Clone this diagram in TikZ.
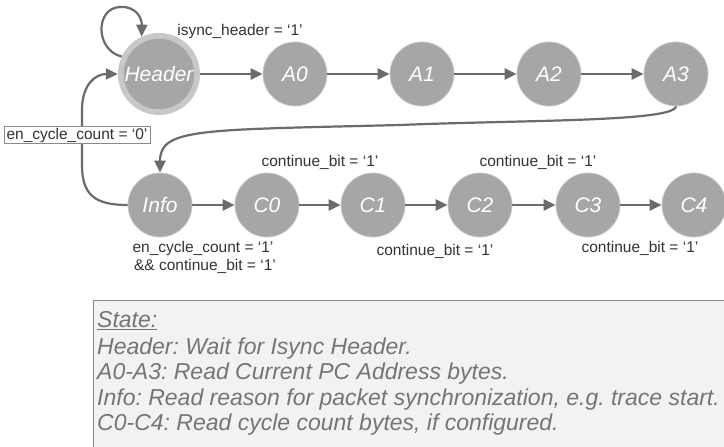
\documentclass[tikz,border=0pt]{standalone}
\usepackage{fontspec}
\setmainfont{Liberation Sans}
\usetikzlibrary{arrows.meta}
\definecolor{nodegray}{HTML}{A6A6A6}
\definecolor{ringgray}{HTML}{C8C8C8}
\definecolor{edgegray}{HTML}{6B6B6B}
\definecolor{labelgray}{HTML}{333333}
\definecolor{legendfill}{HTML}{F2F2F2}
\definecolor{legendline}{HTML}{8A8A8A}
\definecolor{legendtext}{HTML}{757575}
\frenchspacing
\begin{document}
\begin{tikzpicture}[x=1pt,y=-1pt,
  statenode/.style={circle,fill=nodegray,draw=ringgray,line width=0.8pt,minimum size=64pt,inner sep=0pt,text=white,font=\fontsize{21}{25}\selectfont\itshape},
  ringnode/.style={circle,fill=ringgray,minimum size=82pt,inner sep=0pt},
  trans/.style={draw=edgegray,line width=2.2pt,-{Triangle[length=12pt,width=11pt]}},
  elabel/.style={text=labelgray,font=\fontsize{15.5}{18}\selectfont,inner sep=0pt,anchor=base},
  legline/.style={text=legendtext,font=\fontsize{23}{26}\selectfont\itshape,inner sep=0pt,anchor=base west}]
\useasboundingbox (0,0) rectangle (724,447);
\fill[white] (0,0) rectangle (724,447);

% legend
\draw[fill=legendfill,draw=legendline,line width=0.8pt] (93,300) rectangle (740,460);
\node[legline] (L1) at (97,327.5) {\underline{State:}};
\node[legline] (L2) at (97,354) {Header: Wait for Isync Header.};
\node[legline] (L3) at (97,379.5) {A0-A3: Read Current PC Address bytes.};
\node[legline] (L4) at (97,405) {Info: Read reason for packet synchronization, e.g. trace start.};
\node[legline] (L5) at (97,430.5) {C0-C4: Read cycle count bytes, if configured.};

% states
\node[ringnode] (H) at (159,74) {};
\node[statenode,draw=none] (Hin) at (H) {Header};
\node[statenode] (A0) at (295,74) {A0};
\node[statenode] (A1) at (422,74) {A1};
\node[statenode] (A2) at (549,74) {A2};
\node[statenode] (A3) at (676,74) {A3};
\node[statenode] (Info) at (160,205) {Info};
\node[statenode] (C0) at (267,205) {C0};
\node[statenode] (C1) at (373,205) {C1};
\node[statenode] (C2) at (480,205) {C2};
\node[statenode] (C3) at (588,205) {C3};
\node[statenode] (C4) at (694,205) {C4};

% transitions
\draw[trans] (H) -- (A0);
\draw[trans] (A0) -- (A1);
\draw[trans] (A1) -- (A2);
\draw[trans] (A2) -- (A3);
\draw[trans] (Info) -- (C0);
\draw[trans] (C0) -- (C1);
\draw[trans] (C1) -- (C2);
\draw[trans] (C2) -- (C3);
\draw[trans] (C3) -- (C4);
\draw[trans] (H.155) .. controls (95,50) and (95,8) .. (120,7) .. controls (136,6) and (142,18) .. (H.115);
\draw[trans] (A3.south) .. controls (674,122) and (520,120) .. (400,125) .. controls (200,130) and (160,128) .. (Info.north);
\draw[trans] (Info.west) .. controls (95,205) and (82,195) .. (82,165) -- (82,110) .. controls (82,85) and (95,74) .. (H.west);

% labels
\node[draw=legendline,fill=white,line width=0.6pt,font=\fontsize{15.5}{18}\selectfont,text=labelgray,inner xsep=2.5pt,inner ysep=1.5pt] (l0) at (77,135) {en\_cycle\_count = ‘0’};
\node[elabel] (l1) at (240,35) {isync\_header = ‘1’};
\node[elabel] (l2) at (320,166) {continue\_bit = ‘1’};
\node[elabel] (l3) at (538,166) {continue\_bit = ‘1’};
\node[elabel] (l4) at (435,255) {continue\_bit = ‘1’};
\node[elabel] (l5) at (640,252) {continue\_bit = ‘1’};
\node[elabel] (l6) at (203,252) {en\_cycle\_count = ‘1’};
\node[elabel] (l7) at (205,270) {\&\& continue\_bit = ‘1’};
\end{tikzpicture}
\end{document}
